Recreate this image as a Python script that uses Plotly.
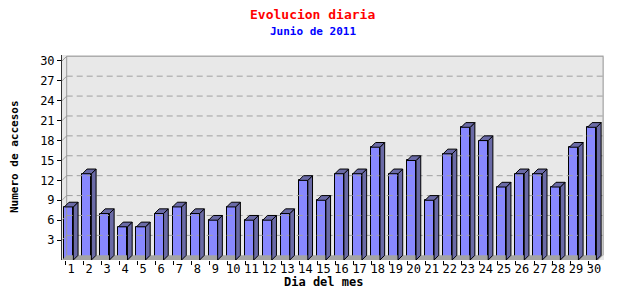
import plotly.graph_objects as go

# ---- data ----
days = list(range(1, 31))
accesos = [8, 13, 7, 5, 5, 7, 8, 7, 6, 8, 6, 6, 7, 12, 9,
           13, 13, 17, 13, 15, 9, 16, 20, 18, 11, 13, 13, 11, 17, 20]
y_ticks = [3, 6, 9, 12, 15, 18, 21, 24, 27, 30]
x_labels = [str(d) for d in days]

title = "Evolucion diaria"
subtitle = "Junio de 2011"
x_title = "Dia del mes"
y_title = "Numero de accesos"

# ---- geometry (data units) ----
X0, X1 = 0.5, 30.55
Y0, Y1 = 0.0, 30.9
DX, DY = 0.26, 0.71          # 3D depth offset
BL, BR = -0.37, 0.13          # front face left / right relative to category

FRONT = "#8888ff"
SIDE = "#6a6aa6"
WALL = "#e8e8e8"
FLOOR = "#a4a4a4"
GRID = "#a0a0a0"

L, R, T, B = 62, 36, 55, 40
W, H = 640, 300
PW, PH = W - L - R, H - T - B


def px_x(px):
    return (px - L) / PW


def px_y(py):
    return (H - B - py) / PH


fig = go.Figure()

# floor
fig.add_trace(go.Scatter(
    x=[X0, 30.5 - DX, 30.5, X0 + DX, X0],
    y=[0, 0, DY, DY, 0],
    fill="toself", fillcolor=FLOOR, mode="lines",
    line=dict(width=0), hoverinfo="skip", showlegend=False))

# back wall grid lines (dashed) + left diagonals
gx, gy, dxs, dys = [], [], [], []
for v in y_ticks[:-1]:
    gx += [X0 + DX, 30.5, None]
    gy += [v + DY, v + DY, None]
    dxs += [X0, X0 + DX, None]
    dys += [v, v + DY, None]
fig.add_trace(go.Scatter(x=gx, y=gy, mode="lines",
                         line=dict(color=GRID, width=1, dash="6px,4px"),
                         hoverinfo="skip", showlegend=False))
fig.add_trace(go.Scatter(x=dxs, y=dys, mode="lines",
                         line=dict(color=GRID, width=1),
                         hoverinfo="skip", showlegend=False))
# wall border (top / right / back-left)
top = y_ticks[-1] + DY
fig.add_trace(go.Scatter(
    x=[X0, X0 + DX, X0 + DX, None, X0 + DX, 30.5, 30.5],
    y=[top - DY, top, DY, None, top, top, DY],
    mode="lines", line=dict(color="#999999", width=1),
    hoverinfo="skip", showlegend=False))

# bar side and top faces
sx, sy, tx, ty = [], [], [], []
for d, v in zip(days, accesos):
    sx += [d + BR, d + BR + DX, d + BR + DX, d + BR, d + BR, None]
    sy += [0, DY, v + DY, v, 0, None]
    tx += [d + BL, d + BL + DX, d + BR + DX, d + BR, d + BL, None]
    ty += [v, v + DY, v + DY, v, v, None]
fig.add_trace(go.Scatter(x=sx, y=sy, fill="toself", fillcolor=SIDE,
                         mode="lines", line=dict(color="black", width=1),
                         hoverinfo="skip", showlegend=False))
fig.add_trace(go.Scatter(x=tx, y=ty, fill="toself", fillcolor=SIDE,
                         mode="lines", line=dict(color="black", width=1),
                         hoverinfo="skip", showlegend=False))

# front faces
fig.add_trace(go.Bar(
    x=days, y=accesos, width=BR - BL, offset=BL,
    marker=dict(color=FRONT, line=dict(color="black", width=1)),
    showlegend=False))

mono = "DejaVu Sans Mono"
fig.update_layout(
    width=W, height=H,
    margin=dict(l=L, r=R, t=T, b=B),
    paper_bgcolor="white", plot_bgcolor=WALL,
    font=dict(family=mono, size=12, color="black"),
    xaxis=dict(range=[X0, X1], showgrid=False, zeroline=False,
               tickvals=days, ticktext=x_labels, ticks="",
               tickfont=dict(family=mono, size=12),
               minor=dict(tickvals=[d + 0.5 + 0.17 for d in [0] + days],
                          ticks="outside", ticklen=4, tickcolor="black"),
               showline=False),
    yaxis=dict(range=[Y0, Y1], showgrid=False, zeroline=False,
               tickvals=y_ticks, ticks="outside", ticklen=4,
               tickcolor="black", showline=True, linecolor="#333333",
               tickfont=dict(family=mono, size=12)),
    bargap=0,
    annotations=[
        dict(text=title, x=px_x(312), y=px_y(14), xref="paper", yref="paper",
             xanchor="center", yanchor="middle",
             showarrow=False, font=dict(family=mono, size=13, color="red",
                                        weight="bold")),
        dict(text=subtitle, x=px_x(313), y=px_y(32), xref="paper",
             yref="paper", xanchor="center", yanchor="middle",
             showarrow=False,
             font=dict(family=mono, size=11, color="blue", weight="bold")),
        dict(text=x_title, x=px_x(323), y=px_y(282), xref="paper",
             yref="paper", xanchor="center", yanchor="middle",
             showarrow=False,
             font=dict(family=mono, size=12, color="black", weight="bold")),
        dict(text=y_title, x=px_x(14), y=px_y(157), xref="paper",
             yref="paper", xanchor="center", yanchor="middle",
             showarrow=False, textangle=-90,
             font=dict(family=mono, size=11, color="black", weight="bold")),
    ],
)

fig.write_html("out.html")
